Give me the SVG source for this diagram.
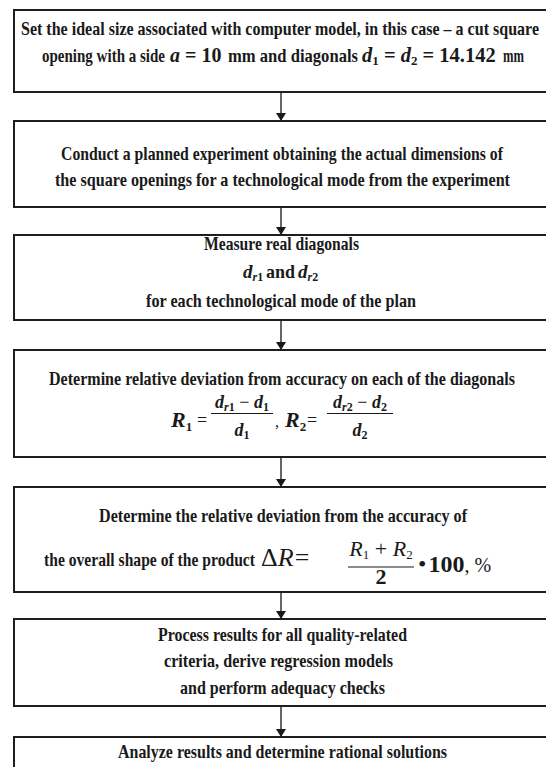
<svg xmlns="http://www.w3.org/2000/svg" width="546" height="767" viewBox="0 0 546 767">
<defs>
<style>
.box{fill:#fff;stroke:#1e1e1e;stroke-width:2}
.t{font-family:"Liberation Serif","Times New Roman",serif;font-weight:bold;font-size:18px;fill:#1a1a1a}
.c{text-anchor:middle}
.m{font-family:"Liberation Serif","Times New Roman",serif;fill:#1a1a1a}
.mi{font-family:"Liberation Serif","Times New Roman",serif;font-style:italic;fill:#1a1a1a}
.bar{stroke:#1a1a1a;stroke-width:1.2}
.conn{stroke:#333;stroke-width:1.5;fill:none;marker-end:url(#ah)}
</style>
<marker id="ah" viewBox="0 0 8 10" refX="8" refY="5" markerWidth="8" markerHeight="10" markerUnits="userSpaceOnUse" orient="auto">
<path d="M0,0 L8,5 L0,10 Z" fill="#1a1a1a"/>
</marker>
</defs>
<rect width="546" height="767" fill="#fff"/>

<g id="connectors">
<line class="conn" x1="281" y1="92" x2="281" y2="121"/>
<line class="conn" x1="281" y1="207" x2="281" y2="235"/>
<line class="conn" x1="281" y1="320" x2="281" y2="350"/>
<line class="conn" x1="281" y1="457" x2="281" y2="487"/>
<line class="conn" x1="281" y1="592" x2="281" y2="619"/>
<line class="conn" x1="281" y1="706" x2="281" y2="737"/>
</g>

<g id="node1">
<rect class="box" x="14" y="10" width="536" height="82"/>
<text class="t" transform="translate(21,35) scale(0.75,1)" textLength="690.67" lengthAdjust="spacingAndGlyphs">Set the ideal size associated with computer model, in this case – a cut square</text>
<text class="t" transform="translate(42,62) scale(0.75,1)" textLength="164" lengthAdjust="spacingAndGlyphs">opening with a side</text>
<text class="m" x="170" y="62" font-size="20" font-weight="bold"><tspan font-style="italic">a</tspan> = 10</text>
<text class="t" transform="translate(228,62) scale(0.75,1)" textLength="173.33" lengthAdjust="spacingAndGlyphs">mm and diagonals</text>
<text class="m" x="362" y="62" font-size="20.5" font-weight="bold"><tspan font-style="italic">d</tspan><tspan font-size="13" dy="3">1</tspan><tspan dy="-3"> = </tspan><tspan font-style="italic">d</tspan><tspan font-size="13" dy="3">2</tspan><tspan dy="-3"> = 14.142</tspan></text>
<text class="t" transform="translate(503,62) scale(0.75,1)" textLength="28" lengthAdjust="spacingAndGlyphs">mm</text>
</g>

<g id="node2">
<rect class="box" x="14" y="121" width="536" height="86"/>
<text class="t" transform="translate(61,160) scale(0.75,1)" textLength="589.33" lengthAdjust="spacingAndGlyphs">Conduct a planned experiment obtaining the actual dimensions of</text>
<text class="t" transform="translate(55,186) scale(0.75,1)" textLength="606.67" lengthAdjust="spacingAndGlyphs">the square openings for a technological mode from the experiment</text>
</g>

<g id="node3">
<rect class="box" x="14" y="235" width="536" height="85"/>
<text class="t" transform="translate(204,250) scale(0.75,1)" textLength="206.67" lengthAdjust="spacingAndGlyphs">Measure real diagonals</text>
<text class="mi" x="243" y="278" font-size="19" font-weight="bold">d<tspan font-size="12" dy="3">r</tspan><tspan font-style="normal" font-size="12">1</tspan></text>
<text class="t" transform="translate(266,278) scale(0.75,1)" textLength="38.67" lengthAdjust="spacingAndGlyphs">and</text>
<text class="mi" x="298" y="278" font-size="19" font-weight="bold">d<tspan font-size="12" dy="3">r</tspan><tspan font-style="normal" font-size="12">2</tspan></text>
<text class="t" transform="translate(146,307) scale(0.75,1)" textLength="360" lengthAdjust="spacingAndGlyphs">for each technological mode of the plan</text>
</g>

<g id="node4">
<rect class="box" x="14" y="350" width="536" height="107"/>
<text class="t" transform="translate(49,385) scale(0.75,1)" textLength="621.33" lengthAdjust="spacingAndGlyphs">Determine relative deviation from accuracy on each of the diagonals</text>
<text class="mi" x="171" y="427" font-size="22" font-weight="bold">R<tspan font-style="normal" font-size="13" dy="4">1</tspan></text>
<text class="m" x="197" y="426" font-size="18">=</text>
<text class="mi c" x="242" y="408" font-size="18" font-weight="bold">d<tspan font-size="12" dy="3">r</tspan><tspan font-style="normal" font-size="12">1</tspan><tspan dy="-3" font-style="normal" font-weight="normal"> − </tspan>d<tspan font-style="normal" font-size="12" dy="3">1</tspan></text>
<line class="bar" x1="211" y1="413.5" x2="273" y2="413.5"/>
<text class="mi c" x="242" y="436" font-size="18" font-weight="bold">d<tspan font-style="normal" font-size="12" dy="3">1</tspan></text>
<text class="m" x="275" y="427" font-size="16">,</text>
<text class="mi" x="285" y="427" font-size="22" font-weight="bold">R<tspan font-style="normal" font-size="13" dy="4">2</tspan></text>
<text class="m" x="307" y="426" font-size="18">=</text>
<text class="mi c" x="360" y="408" font-size="18" font-weight="bold">d<tspan font-size="12" dy="3">r</tspan><tspan font-style="normal" font-size="12">2</tspan><tspan dy="-3" font-style="normal" font-weight="normal"> − </tspan>d<tspan font-style="normal" font-size="12" dy="3">2</tspan></text>
<line class="bar" x1="327" y1="413.5" x2="393" y2="413.5"/>
<text class="mi c" x="360" y="436" font-size="18" font-weight="bold">d<tspan font-style="normal" font-size="12" dy="3">2</tspan></text>
</g>

<g id="node5">
<rect class="box" x="14" y="487" width="536" height="105"/>
<text class="t" transform="translate(99,522) scale(0.75,1)" textLength="490.67" lengthAdjust="spacingAndGlyphs">Determine the relative deviation from the accuracy of</text>
<text class="t" transform="translate(44,566) scale(0.75,1)" textLength="281.33" lengthAdjust="spacingAndGlyphs">the overall shape of the product</text>
<text class="m" x="261" y="566" font-size="26">Δ<tspan font-style="italic">R</tspan><tspan dx="1">=</tspan></text>
<text class="mi c" x="381" y="556" font-size="22">R<tspan font-style="normal" font-size="13" dy="3">1</tspan><tspan font-style="normal" dy="-3"> + </tspan>R<tspan font-style="normal" font-size="13" dy="3">2</tspan></text>
<line class="bar" x1="348" y1="567" x2="414" y2="567"/>
<text class="m c" x="381" y="584" font-size="22" font-weight="bold">2</text>
<text class="m" x="418" y="572" font-size="24">•<tspan font-weight="bold" dx="2">100</tspan><tspan font-size="20">, %</tspan></text>
</g>

<g id="node6">
<rect class="box" x="14" y="619" width="536" height="87"/>
<text class="t" transform="translate(158,641) scale(0.75,1)" textLength="332" lengthAdjust="spacingAndGlyphs">Process results for all quality-related</text>
<text class="t" transform="translate(164,667) scale(0.75,1)" textLength="305.33" lengthAdjust="spacingAndGlyphs">criteria, derive regression models</text>
<text class="t" transform="translate(180,694) scale(0.75,1)" textLength="273.33" lengthAdjust="spacingAndGlyphs">and perform adequacy checks</text>
</g>

<g id="node7">
<rect class="box" x="14" y="737" width="536" height="50"/>
<text class="t" transform="translate(118,758) scale(0.75,1)" textLength="438.67" lengthAdjust="spacingAndGlyphs">Analyze results and determine rational solutions</text>
</g>
</svg>
